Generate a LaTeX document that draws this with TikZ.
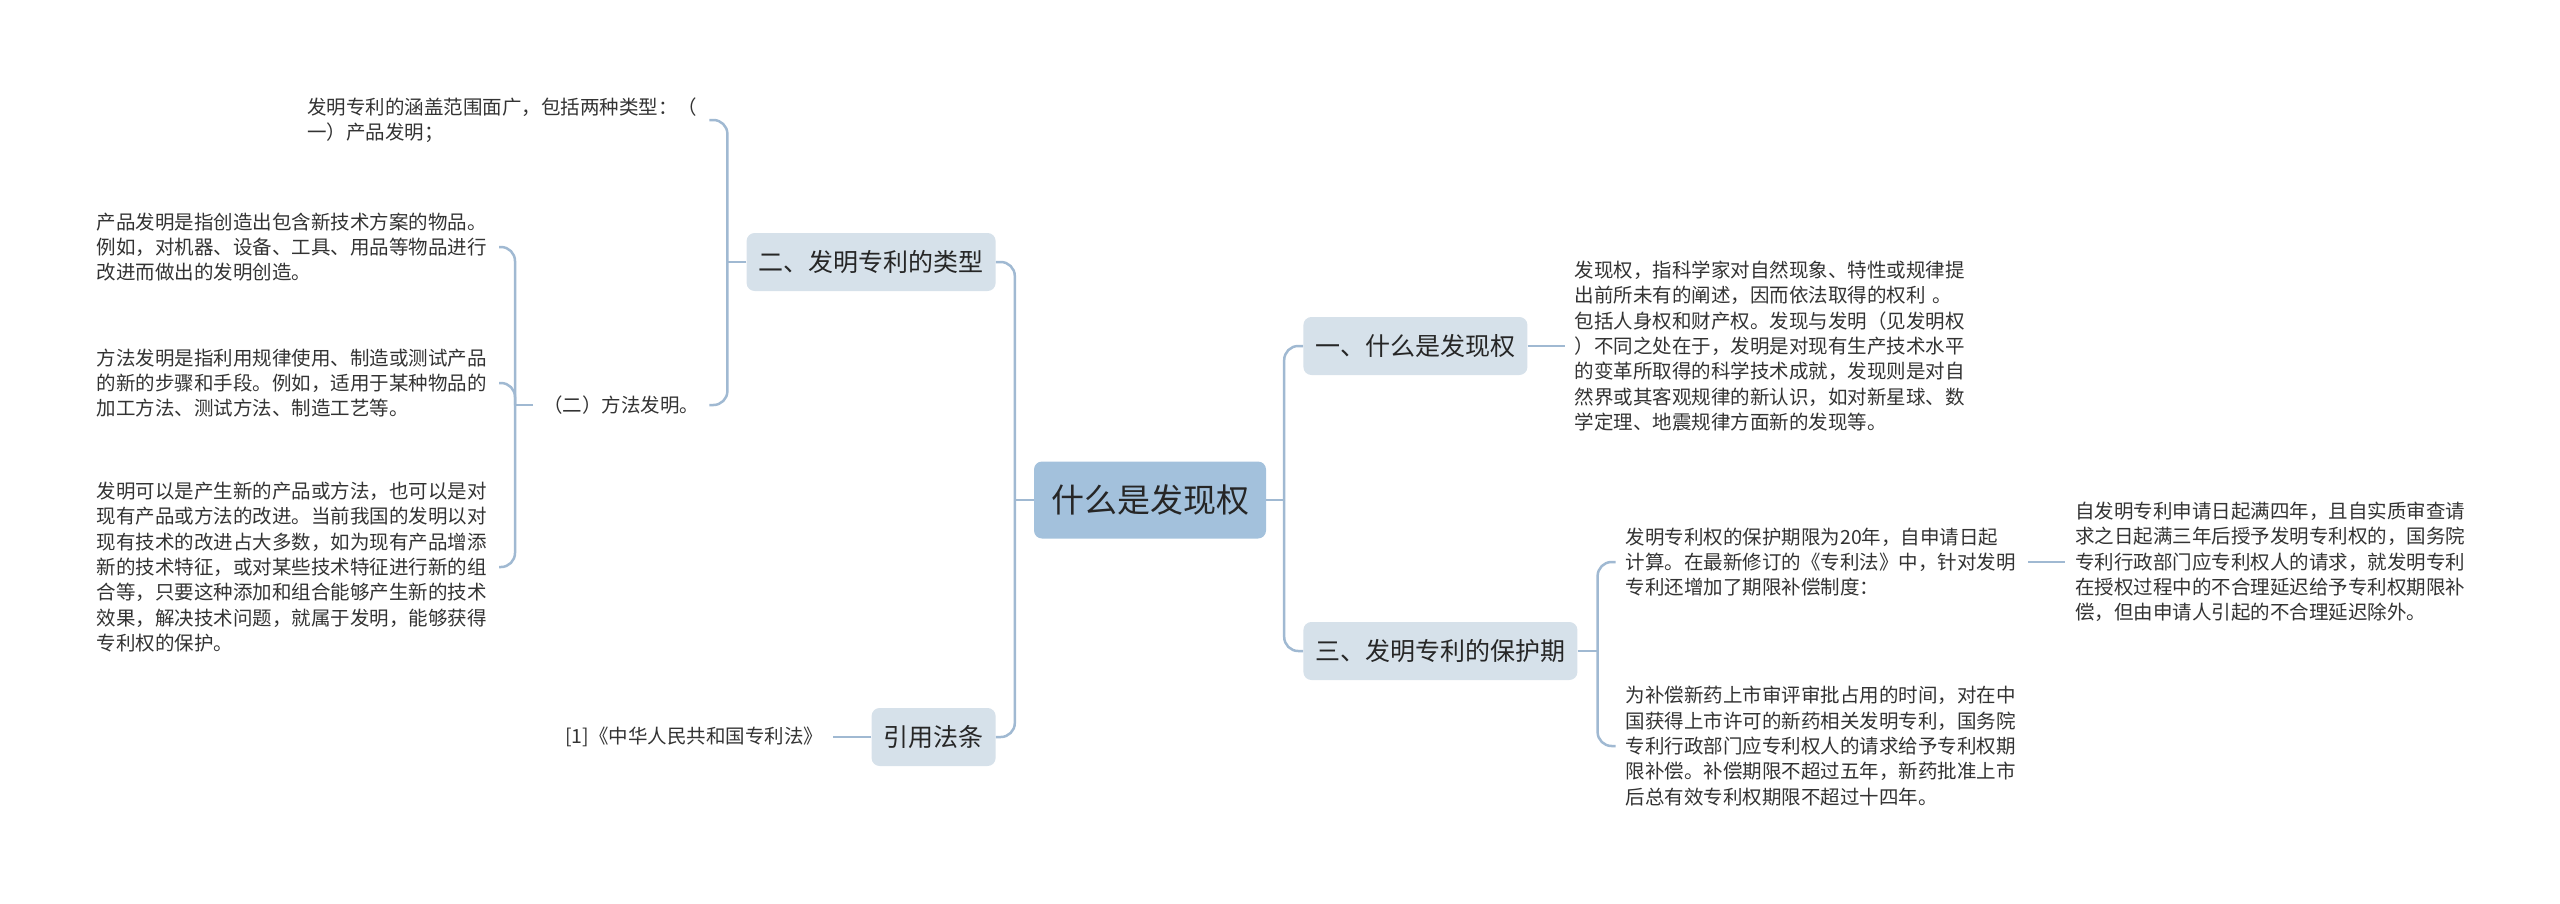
\documentclass[tikz,border=0pt]{standalone}
\usepackage{fontspec}
\setmainfont{Noto Sans CJK SC}
\usetikzlibrary{positioning}
\definecolor{hubfill}{HTML}{A3C1DC}
\definecolor{topfill}{HTML}{D6E1EA}
\definecolor{lkcol}{HTML}{A0B9D2}
\definecolor{txt}{HTML}{333333}

\begin{document}
\begin{tikzpicture}[x=1pt, y=-1pt, text=txt]
\tikzset{
  hub/.style  ={fill=hubfill, rounded corners=8pt, inner xsep=17pt, minimum height=77pt,
                font=\fontsize{33pt}{40pt}\selectfont, text=black!85},
  topic/.style={fill=topfill, rounded corners=8pt, inner xsep=12pt, minimum height=58pt,
                font=\fontsize{25pt}{30pt}\selectfont, text=black!85},
  note/.style ={align=left, text width=392pt, inner xsep=10pt, font=\fontsize{19.5pt}{25.3pt}\selectfont},
  tag/.style  ={inner xsep=10pt, font=\fontsize{19.5pt}{25.3pt}\selectfont},
  lk/.style   ={draw=lkcol, line width=2.5pt, rounded corners=14pt}
}
\useasboundingbox (0,0) rectangle (2560,903);
\node (fx)[hub] at (1150,500){什么是发现权};
\node (t1)[topic,right=37pt of fx,yshift=154pt]{一、什么是发现权};
\node (t3)[topic,right=37pt of fx,yshift=-151pt]{三、发明专利的保护期};
\node (t2)[topic,left=38pt of fx,yshift=238pt]{二、发明专利的类型};
\node (t4)[topic,left=38pt of fx,yshift=-237pt]{引用法条};
% right side
\node (d1)[note,right=37pt of t1]{发现权，指科学家对自然现象、特性或规律提\\出前所未有的阐述，因而依法取得的权利 。\\包括人身权和财产权。发现与发明（见发明权\\）不同之处在于，发明是对现有生产技术水平\\的变革所取得的科学技术成就，发现则是对自\\然界或其客观规律的新认识，如对新星球、数\\学定理、地震规律方面新的发现等。};
\node (p1)[note,right=38pt of t3,yshift=89pt]{发明专利权的保护期限为20年，自申请日起\\计算。在最新修订的《专利法》中，针对发明\\专利还增加了期限补偿制度：};
\node (p2)[note,right=38pt of t3,yshift=-95pt]{为补偿新药上市审评审批占用的时间，对在中\\国获得上市许可的新药相关发明专利，国务院\\专利行政部门应专利权人的请求给予专利权期\\限补偿。补偿期限不超过五年，新药批准上市\\后总有效专利权期限不超过十四年。};
\node (p3)[note,right=37pt of p1]{自发明专利申请日起满四年，且自实质审查请\\求之日起满三年后授予发明专利权的，国务院\\专利行政部门应专利权人的请求，就发明专利\\在授权过程中的不合理延迟给予专利权期限补\\偿，但由申请人引起的不合理延迟除外。};
% left side
\node (c1)[note,left=37pt of t2,yshift=142pt]{发明专利的涵盖范围面广，包括两种类型：（\\一）产品发明；};
\node (c2)[tag,left=37pt of t2,yshift=-143pt]{（二）方法发明。};
\node (g1)[note,left=34pt of c2,yshift=158pt]{产品发明是指创造出包含新技术方案的物品。\\例如，对机器、设备、工具、用品等物品进行\\改进而做出的发明创造。};
\node (g2)[note,left=34pt of c2,yshift=22pt]{方法发明是指利用规律使用、制造或测试产品\\的新的步骤和手段。例如，适用于某种物品的\\加工方法、测试方法、制造工艺等。};
\node (g3)[note,left=34pt of c2,yshift=-162pt]{发明可以是产生新的产品或方法，也可以是对\\现有产品或方法的改进。当前我国的发明以对\\现有技术的改进占大多数，如为现有产品增添\\新的技术特征，或对某些技术特征进行新的组\\合等，只要这种添加和组合能够产生新的技术\\效果，解决技术问题，就属于发明，能够获得\\专利权的保护。};
\node (r1)[tag,left=38pt of t4]{[1]《中华人民共和国专利法》};
% junctions
\coordinate (jr) at ([xshift=18pt]fx.east);
\coordinate (jl) at ([xshift=-19pt]fx.west);
\coordinate (j3) at ([xshift=20pt]t3.east);
\coordinate (j2) at ([xshift=-19pt]t2.west);
\coordinate (jc) at ([xshift=-18pt]c2.west);
\draw[lk](fx.east)--(jr); \draw[lk](jr)|-(t1); \draw[lk](jr)|-(t3);
\draw[lk](fx.west)--(jl); \draw[lk](jl)|-(t2); \draw[lk](jl)|-(t4);
\draw[lk](t1)--(d1); \draw[lk](t3.east)--(j3); \draw[lk](j3)|-(p1); \draw[lk](j3)|-(p2); \draw[lk](p1)--(p3);
\draw[lk](t2.west)--(j2); \draw[lk](j2)|-(c1); \draw[lk](j2)|-(c2);
\draw[lk](c2.west)--(jc); \draw[lk](jc)|-(g1); \draw[lk](jc)|-(g2); \draw[lk](jc)|-(g3);
\draw[lk](t4)--(r1);
\end{tikzpicture}
\end{document}
